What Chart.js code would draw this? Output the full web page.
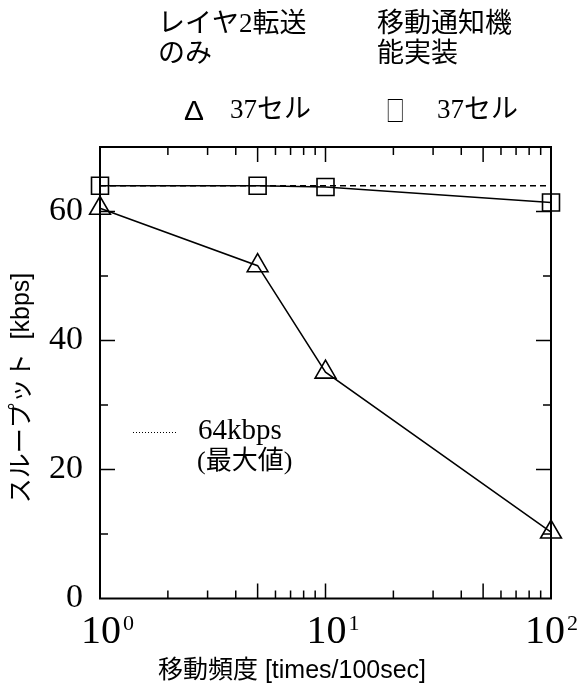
<!DOCTYPE html>
<html><head><meta charset="utf-8">
<script src="https://cdn.jsdelivr.net/npm/chart.js@4"></script>
<style>html,body{margin:0;padding:0;background:#fff}#wrap{position:relative;width:582px;height:691px}</style>
</head><body><div id="wrap"><canvas id="c" width="582" height="691"></canvas></div>
<script>
// ---- data ----
const freq = [1, 5, 10, 100];
const layer2Only = [60.5, 51.6, 35.1, 10.3];
const mobilityNotify = [64.0, 64.0, 63.8, 61.4];
const maxRate = 64;
const maxRange = [1, 100];
const yTicks = [0, 20, 40, 60];
const yMinorTicks = [10, 30, 50];
const xLabelExps = [0, 1, 2];
const xLongTicks = [5, 10, 50];
const xShortTicks = [2, 3, 4, 6, 7, 8, 9, 20, 30, 40, 60, 70, 80, 90];
const headerGroups = [
  { lines: ['レイヤ2転送', 'のみ'], symbol: 'Δ', cell: '37セル' },
  { lines: ['移動通知機', '能実装'], symbol: '□', cell: '37セル' }
];
const maxLegend = ['64kbps', '(最大値)'];
const xTitle = '移動頻度 [times/100sec]';
const yTitle = 'スループット  [kbps]';

const SERIF = '"Liberation Serif", "Noto Sans CJK JP"';
const SANS = '"Liberation Sans", "Noto Sans CJK JP"';

const deco = {
  id: 'deco',
  afterDraw(chart) {
    const ctx = chart.ctx, a = chart.chartArea;
    const xs = chart.scales.x, ys = chart.scales.y;
    ctx.save();
    ctx.strokeStyle = '#000';
    ctx.fillStyle = '#000';
    // frame
    ctx.lineWidth = 2;
    ctx.strokeRect(a.left, a.top, a.right - a.left, a.bottom - a.top);
    // ticks
    ctx.lineWidth = 1.5;
    const vt = (v, len) => {
      const p = xs.getPixelForValue(v);
      ctx.beginPath();
      ctx.moveTo(p, a.bottom); ctx.lineTo(p, a.bottom - len);
      ctx.moveTo(p, a.top); ctx.lineTo(p, a.top + len);
      ctx.stroke();
    };
    xLongTicks.forEach(v => vt(v, 15));
    xShortTicks.forEach(v => vt(v, 8));
    const ht = (v, len) => {
      const p = ys.getPixelForValue(v);
      ctx.beginPath();
      ctx.moveTo(a.left, p); ctx.lineTo(a.left + len, p);
      ctx.moveTo(a.right, p); ctx.lineTo(a.right - len, p);
      ctx.stroke();
    };
    yTicks.slice(1).forEach(v => ht(v, 15));
    yMinorTicks.forEach(v => ht(v, 8));

    // x tick labels 10^n
    xLabelExps.forEach(e => {
      const p = xs.getPixelForValue(Math.pow(10, e));
      ctx.textBaseline = 'alphabetic';
      ctx.textAlign = 'left';
      ctx.font = '40px ' + SERIF;
      const w = ctx.measureText('10').width;
      ctx.font = '22px ' + SERIF;
      const ws = ctx.measureText(String(e)).width;
      let x0 = p + 1 - w / 2;
      const total = w + 2 + ws;
      if (x0 + total > 578) x0 = 578 - total;
      ctx.font = '40px ' + SERIF;
      ctx.fillText('10', x0, 643);
      ctx.font = '22px ' + SERIF;
      ctx.fillText(String(e), x0 + w + 2, 630);
    });

    // axis titles
    ctx.font = '25px ' + SANS;
    ctx.textAlign = 'center';
    ctx.textBaseline = 'middle';
    ctx.fillText(xTitle, 292, 671);
    ctx.save();
    ctx.translate(22, 388);
    ctx.rotate(-Math.PI / 2);
    ctx.font = '25px ' + SANS;
    ctx.fillText(yTitle, 0, 0);
    ctx.restore();

    // header legend
    ctx.textAlign = 'left';
    ctx.textBaseline = 'middle';
    const gx = [158, 377];
    headerGroups.forEach((g, i) => {
      ctx.font = '27px ' + SERIF;
      g.lines.forEach((t, j) => ctx.fillText(t, gx[i], 25 + j * 30));
    });
    ctx.save();
    ctx.translate(184, 112);
    ctx.scale(1.15, 1.05);
    ctx.font = '26px "Liberation Sans"';
    ctx.fillText(headerGroups[0].symbol, 0, 0);
    ctx.restore();
    ctx.save();
    ctx.translate(386, 111);
    ctx.scale(0.74, 1.08);
    ctx.font = '25px "Noto Sans CJK JP"';
    ctx.fillText(headerGroups[1].symbol, 0, 0);
    ctx.restore();
    ctx.font = '27px ' + SERIF;
    ctx.fillText(headerGroups[0].cell, 230, 111);
    ctx.fillText(headerGroups[1].cell, 437, 111);

    // inner legend for max line
    ctx.lineWidth = 1;
    ctx.setLineDash([1, 2]);
    ctx.beginPath();
    ctx.moveTo(133, 432.5); ctx.lineTo(177, 432.5);
    ctx.stroke();
    ctx.setLineDash([]);
    ctx.font = '29px ' + SERIF;
    ctx.textBaseline = 'alphabetic';
    ctx.fillText(maxLegend[0], 198, 439);
    ctx.textBaseline = 'middle';
    ctx.font = '26px ' + SERIF;
    ctx.fillText(maxLegend[1], 197, 462);
    ctx.restore();
  }
};

const pts = ys => freq.map((x, i) => ({ x, y: ys[i] }));

new Chart(document.getElementById('c'), {
  type: 'line',
  data: {
    datasets: [
      { label: 'レイヤ2転送のみ 37セル', data: pts(layer2Only), borderColor: '#000', borderWidth: 1.5,
        pointStyle: 'triangle', pointRadius: 12, pointBorderWidth: 1.6, pointBorderColor: '#000',
        pointBackgroundColor: 'rgba(0,0,0,0)', fill: false, tension: 0, clip: false },
      { label: '移動通知機能実装 37セル', data: pts(mobilityNotify), borderColor: '#000', borderWidth: 1.5,
        pointStyle: 'rect', pointRadius: 12, pointBorderWidth: 1.6, pointBorderColor: '#000',
        pointBackgroundColor: 'rgba(0,0,0,0)', fill: false, tension: 0, clip: false },
      { label: '64kbps (最大値)', data: maxRange.map(x => ({ x, y: maxRate })), borderColor: '#000',
        borderWidth: 1.5, borderDash: [6, 4], pointRadius: 0, fill: false }
    ]
  },
  options: {
    responsive: false,
    animation: false,
    layout: { padding: { top: 147, right: 31, left: 0, bottom: 0 } },
    plugins: { legend: { display: false }, tooltip: { enabled: false } },
    scales: {
      x: { type: 'logarithmic', min: 1, max: 100,
        ticks: { display: false }, grid: { display: false, drawTicks: false }, border: { display: false },
        afterFit(s) { s.height = 92.5; } },
      y: { min: 0, max: 70,
        afterBuildTicks(s) { s.ticks = yTicks.map(v => ({ value: v })); },
        ticks: { font: { family: '"Liberation Serif"', size: 34 }, color: '#000', padding: 17 },
        grid: { display: false, drawTicks: false }, border: { display: false },
        afterFit(s) { s.width = 100; } }
    }
  },
  plugins: [deco]
});
</script>
</body></html>
